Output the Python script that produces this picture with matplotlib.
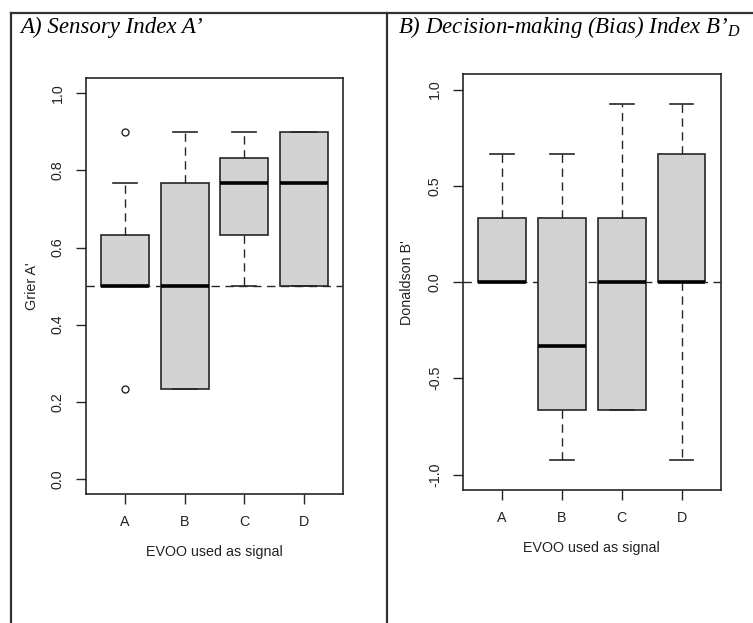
import matplotlib.pyplot as plt
from matplotlib.lines import Line2D

plt.rcParams['font.family'] = ['Liberation Sans', 'DejaVu Sans']
plt.rcParams['mathtext.fontset'] = 'custom'
plt.rcParams['mathtext.it'] = 'Liberation Serif:italic'
plt.rcParams['mathtext.rm'] = 'Liberation Serif'

groups = ['A', 'B', 'C', 'D']

# Panel A: Grier A' box stats
a_whislo = [0.5, 0.233, 0.5, 0.5]
a_q1 = [0.5, 0.233, 0.633, 0.5]
a_med = [0.5, 0.5, 0.767, 0.767]
a_q3 = [0.633, 0.767, 0.833, 0.9]
a_whishi = [0.767, 0.9, 0.9, 0.9]
a_fliers = [[0.9, 0.233], [], [], []]

# Panel B: Donaldson B' box stats
b_whislo = [0.0, -0.923, -0.667, -0.923]
b_q1 = [0.0, -0.667, -0.667, 0.0]
b_med = [0.0, -0.333, 0.0, 0.0]
b_q3 = [0.333, 0.333, 0.333, 0.667]
b_whishi = [0.667, 0.667, 0.923, 0.923]
b_fliers = [[], [], [], []]

edge = '#262626'
fs = 10.3


def make_stats(lo, q1, med, q3, hi, fl):
    return [dict(label=g, whislo=lo[i], q1=q1[i], med=med[i], q3=q3[i],
                 whishi=hi[i], fliers=fl[i]) for i, g in enumerate(groups)]


def draw_panel(ax, stats, ref, ylim, yticks, ylabel, xlab_y, ylab_x):
    ax.axhline(ref, color=edge, lw=1.0, ls=(0, (6, 4)), zorder=1)
    ax.bxp(stats, positions=[1, 2, 3, 4], widths=0.8, patch_artist=True,
           showfliers=True,
           boxprops=dict(facecolor='#d3d3d3', edgecolor=edge, lw=1.2),
           medianprops=dict(color='black', lw=2.6, solid_capstyle='butt'),
           whiskerprops=dict(color=edge, lw=1.0, ls=(0, (6, 4))),
           capprops=dict(color=edge, lw=1.2),
           capwidths=0.4,
           flierprops=dict(marker='o', markerfacecolor='none',
                           markeredgecolor=edge, markersize=5, mew=1.0),
           zorder=2)
    ax.set_xlim(0.34, 4.66)
    ax.set_ylim(*ylim)
    ax.set_xticks([1, 2, 3, 4])
    ax.set_xticklabels(groups)
    ax.set_yticks(yticks)
    ax.set_yticklabels([f'{t:.1f}' for t in yticks], rotation=90, va='center')
    ax.tick_params(length=7, width=1.0, color=edge, labelsize=fs,
                   labelcolor='#222222')
    ax.tick_params(axis='y', pad=8)
    ax.tick_params(axis='x', pad=8)
    for s in ax.spines.values():
        s.set_linewidth(1.2)
        s.set_color(edge)
    ax.set_xlabel('EVOO used as signal', fontsize=fs, color='#222222')
    ax.xaxis.set_label_coords(0.5, xlab_y)
    ax.xaxis.label.set_va('center')
    ax.set_ylabel(ylabel, fontsize=fs, color='#222222')
    ax.yaxis.set_label_coords(ylab_x, 0.5)
    ax.yaxis.label.set_va('center')


fig = plt.figure(figsize=(7.53, 6.23), dpi=100)

ax1 = fig.add_axes([0.1138, 0.2071, 0.3421, 0.6673])
draw_panel(ax1, make_stats(a_whislo, a_q1, a_med, a_q3, a_whishi, a_fliers),
           0.5, (-0.039, 1.039), [0.0, 0.2, 0.4, 0.6, 0.8, 1.0],
           'Grier A\'', -0.1395, -0.2085)

ax2 = fig.add_axes([0.6145, 0.2130, 0.3430, 0.6682])
draw_panel(ax2, make_stats(b_whislo, b_q1, b_med, b_q3, b_whishi, b_fliers),
           0.0, (-1.082, 1.081), [-1.0, -0.5, 0.0, 0.5, 1.0],
           'Donaldson B\'', -0.1386, -0.2156)

# table-like frame
W, H = 753, 623
frame = dict(color='#333333', lw=1.6)
fig.add_artist(Line2D([11 / W, 1.0], [1 - 13 / H, 1 - 13 / H], **frame))
fig.add_artist(Line2D([11 / W, 11 / W], [0, 1 - 13 / H], **frame))
fig.add_artist(Line2D([387 / W, 387 / W], [0, 1 - 13 / H], **frame))

title_font = dict(family='Liberation Serif', style='italic', fontsize=16.5,
                  va='center', ha='left', color='black')
fig.text(20 / W, 1 - 27 / H, 'A) Sensory Index A\u2019', **title_font)
fig.text(398 / W, 1 - 27 / H, 'B) Decision-making (Bias) Index B\u2019$_{D}$',
         **title_font)

fig.savefig('out.png', dpi=100)
